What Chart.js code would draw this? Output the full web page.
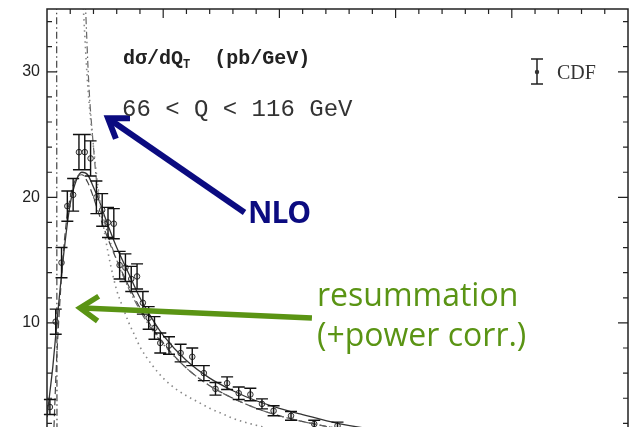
<!DOCTYPE html>
<html><head><meta charset="utf-8">
<script src="https://cdn.jsdelivr.net/npm/chart.js@4/dist/chart.umd.min.js"></script>
<style>
html,body{margin:0;padding:0;background:#fff;overflow:hidden;}
#wrap{position:relative;width:629px;height:427px;}
canvas{position:absolute;left:0;top:0;}
.t{position:absolute;white-space:nowrap;line-height:1;}
</style></head><body>
<div id="wrap">
<canvas id="c" width="629" height="427"></canvas>
<div class="t" style="left:123px;top:49px;font-family:'Liberation Mono';font-size:20px;color:#222;font-weight:bold;">dσ/dQ<span style="font-size:12px;position:relative;top:4px;">T</span>&nbsp;&nbsp;(pb/GeV)</div>
<div class="t" style="left:122px;top:98px;font-family:'Liberation Mono';font-size:24px;color:#333;">66 &lt; Q &lt; 116 GeV</div>
<div class="t" style="left:557px;top:62px;font-family:'Liberation Serif';font-size:20px;color:#333;">CDF</div>
<div class="t" style="left:248px;top:197px;font-family:'Open Sans';font-weight:bold;font-size:30px;color:#0b0b80;letter-spacing:-1px;">NLO</div>
<div class="t" style="left:317px;top:274px;font-family:'Open Sans';font-size:32px;color:#5a9414;line-height:40px;">resummation<br>(+power corr.)</div>
</div>
<script>
// CDF data (Q_T in GeV, dσ/dQ_T in pb/GeV)
const cdfQT  = [0.25,0.75,1.25,1.75,2.25,2.75,3.25,3.75,4.25,4.75,5.25,5.75,6.25,6.75,7.25,7.75,8.25,8.75,9.25,9.75,10.5,11.5,12.5,13.5,14.5,15.5,16.5,17.5,18.5,19.5,21,23,25];
const cdfVal = [3.3,10.1,14.8,19.3,20.2,23.6,23.6,23.1,20.0,19.0,18.0,17.9,14.6,14.4,13.5,13.7,11.6,10.4,9.6,8.4,8.2,7.6,7.3,6.0,4.75,5.2,4.4,4.3,3.55,3.0,2.6,1.95,1.8];
const cdfErr = [0.6,1.0,1.2,1.2,1.3,1.4,1.4,1.4,1.3,1.3,1.2,1.2,1.1,1.1,1.0,1.0,0.9,0.9,0.9,0.8,0.7,0.7,0.7,0.6,0.5,0.5,0.5,0.5,0.4,0.4,0.35,0.3,0.3];

// resummation + power corrections (solid)
const resQT  = [0,0.25,0.5,0.75,1.0,1.5,2.0,2.5,3.0,3.5,4.0,4.5,5,6,7,8,9,10,12,14,16,18,20,22,25,30,35,40,50];
const resVal = [2.5,4.5,6.5,9.0,11.5,16.0,19.5,21.3,22.0,21.8,20.8,19.7,18.4,16.0,14.0,12.0,10.4,9.0,7.0,5.6,4.6,3.8,3.2,2.7,2.0,1.3,0.9,0.6,0.3];

// resummation without power corrections (dashed)
const res0QT  = [0.6,0.8,1.0,1.2,1.6,2.0,2.5,3.0,3.5,4.0,4.5,5,6,7,8,9,10,12,14,16,18,20,25,30,40,50];
const res0Val = [1.7,6.5,10.0,13.0,17.5,20.0,21.5,21.8,21.2,20.0,18.6,17.3,15.0,13.0,11.2,9.7,8.4,6.4,5.0,4.0,3.2,2.6,1.6,1.0,0.45,0.2];

// NLO (dotted)
const nloQT  = [3.1,3.5,4,4.5,5,5.5,6,6.5,7,7.5,8,9,10,11,12,13,14,15,16,17,18,20,25,30,40,50];
const nloVal = [35.5,29,24,20,16.9,14.5,12.6,11.3,10.1,9.1,8.1,6.7,5.6,4.8,4.2,3.7,3.2,2.8,2.4,2.1,1.85,1.4,0.8,0.5,0.2,0.1];

// dash-dot curve
const ddQT  = [3.3,3.6,4.0,4.3,4.7,5.2,6,7,8,9,10,12,14,16,18,20,25,30,40,50];
const ddVal = [35.5,29,24,21,19,17.2,15.0,12.8,11.0,9.5,8.3,6.4,5.0,4.0,3.2,2.6,1.6,1.0,0.45,0.2];

// near-vertical dash-dot line at small Q_T
const vQT  = [0.83,0.86];
const vVal = [35.5,0];

// arrows (data coordinates): tail -> head
const nloArrow = {from:[17.0,18.8], to:[5.25,26.3]};
const resArrow = {from:[22.8,10.4], to:[2.84,11.2]};

const pts = (xs, ys) => xs.map((x,i)=>({x, y: ys[i]}));

const framePlugin = {
  id:'frame',
  afterDraw(chart){
    const {ctx, chartArea:a, scales:{x, y}} = chart;
    ctx.save();
    ctx.strokeStyle = '#222';
    ctx.lineWidth = 1.5;
    ctx.beginPath();
    ctx.moveTo(a.left, a.bottom); ctx.lineTo(a.left, a.top); ctx.lineTo(a.right, a.top); ctx.lineTo(a.right, a.bottom);
    ctx.stroke();
    ctx.lineWidth = 1.2;
    ctx.beginPath();
    for (let v = 2; v < 50; v += 2) {
      const px = x.getPixelForValue(v), L = v % 10 === 0 ? 9 : 5;
      ctx.moveTo(px, a.top); ctx.lineTo(px, a.top + L);
    }
    for (let v = 2; v <= 34; v += 2) {
      const py = y.getPixelForValue(v), L = v % 10 === 0 ? 10 : 5;
      if (py > a.bottom) continue;
      ctx.moveTo(a.left, py); ctx.lineTo(a.left + L, py);
      ctx.moveTo(a.right, py); ctx.lineTo(a.right - L, py);
    }
    ctx.stroke();
    // arrows
    const arrow = (ar, color, w) => {
      const x1 = x.getPixelForValue(ar.from[0]), y1 = y.getPixelForValue(ar.from[1]);
      const x2 = x.getPixelForValue(ar.to[0]), y2 = y.getPixelForValue(ar.to[1]);
      const ang = Math.atan2(y2 - y1, x2 - x1);
      ctx.strokeStyle = color; ctx.lineWidth = w; ctx.lineCap = 'butt'; ctx.lineJoin='miter';
      ctx.beginPath(); ctx.moveTo(x1, y1); ctx.lineTo(x2 - Math.cos(ang)*3, y2 - Math.sin(ang)*3); ctx.stroke();
      const hl = 22, ha = 0.6;
      ctx.beginPath();
      ctx.moveTo(x2 - hl*Math.cos(ang - ha), y2 - hl*Math.sin(ang - ha));
      ctx.lineTo(x2, y2);
      ctx.lineTo(x2 - hl*Math.cos(ang + ha), y2 - hl*Math.sin(ang + ha));
      ctx.stroke();
    };
    arrow(nloArrow, '#0b0b80', 6);
    arrow(resArrow, '#5a9414', 5.5);
    // legend marker for CDF
    ctx.strokeStyle = '#222'; ctx.lineWidth = 1.5;
    ctx.beginPath();
    ctx.moveTo(537, 59); ctx.lineTo(537, 84);
    ctx.moveTo(531, 59); ctx.lineTo(543, 59);
    ctx.moveTo(531, 84); ctx.lineTo(543, 84);
    ctx.stroke();
    ctx.fillStyle = '#333';
    ctx.beginPath(); ctx.arc(537, 72, 2.2, 0, Math.PI*2); ctx.fill();
    ctx.restore();
  }
};

const errPlugin = {
  id:'err',
  afterDatasetsDraw(chart){
    const {ctx, scales:{x, y}} = chart;
    ctx.save();
    ctx.strokeStyle = '#111'; ctx.lineWidth = 1.4;
    ctx.beginPath();
    cdfQT.forEach((q,i)=>{
      const px = x.getPixelForValue(q);
      const yt = y.getPixelForValue(cdfVal[i] + cdfErr[i]);
      const yb = y.getPixelForValue(cdfVal[i] - cdfErr[i]);
      ctx.moveTo(px, yt); ctx.lineTo(px, yb);
      ctx.moveTo(px-6, yt); ctx.lineTo(px+6, yt);
      ctx.moveTo(px-6, yb); ctx.lineTo(px+6, yb);
    });
    ctx.stroke();
    ctx.restore();
  }
};

new Chart(document.getElementById('c'), {
  type:'line',
  data:{ datasets:[
    {data:pts(vQT,vVal), borderColor:'#444', borderWidth:1.2, borderDash:[7,3,1.5,3], pointRadius:0, tension:0},
    {data:pts(nloQT,nloVal), borderColor:'#888', borderWidth:1.6, borderDash:[1.5,4], pointRadius:0, cubicInterpolationMode:'monotone'},
    {data:pts(ddQT,ddVal), borderColor:'#666', borderWidth:1.2, borderDash:[7,3,1.5,3], pointRadius:0, cubicInterpolationMode:'monotone'},
    {data:pts(res0QT,res0Val), borderColor:'#444', borderWidth:1.2, borderDash:[7,4], pointRadius:0, cubicInterpolationMode:'monotone'},
    {data:pts(resQT,resVal), borderColor:'#333', borderWidth:1.3, pointRadius:0, cubicInterpolationMode:'monotone'},
    {type:'scatter', data:pts(cdfQT,cdfVal), showLine:false, pointRadius:2.8, borderWidth:1, borderColor:'#333', backgroundColor:'rgba(200,200,200,0.5)'}
  ]},
  options:{
    responsive:false, animation:false, devicePixelRatio:1,
    layout:{autoPadding:false, padding:{top:9,right:1,bottom:0,left:0}},
    plugins:{legend:{display:false}, tooltip:{enabled:false}},
    scales:{
      x:{type:'linear', min:0, max:50, display:false},
      y:{min:1.71, max:35,
         afterBuildTicks:s=>{s.ticks=[10,20,30].map(v=>({value:v}));},
         afterFit:s=>{s.width=47; s.paddingTop=0; s.paddingBottom=0;},
         ticks:{font:{family:'Liberation Sans', size:16}, color:'#222', padding:7},
         grid:{display:false, drawTicks:false}, border:{display:false}}
    }
  },
  plugins:[framePlugin, errPlugin]
});
</script>
</body></html>
